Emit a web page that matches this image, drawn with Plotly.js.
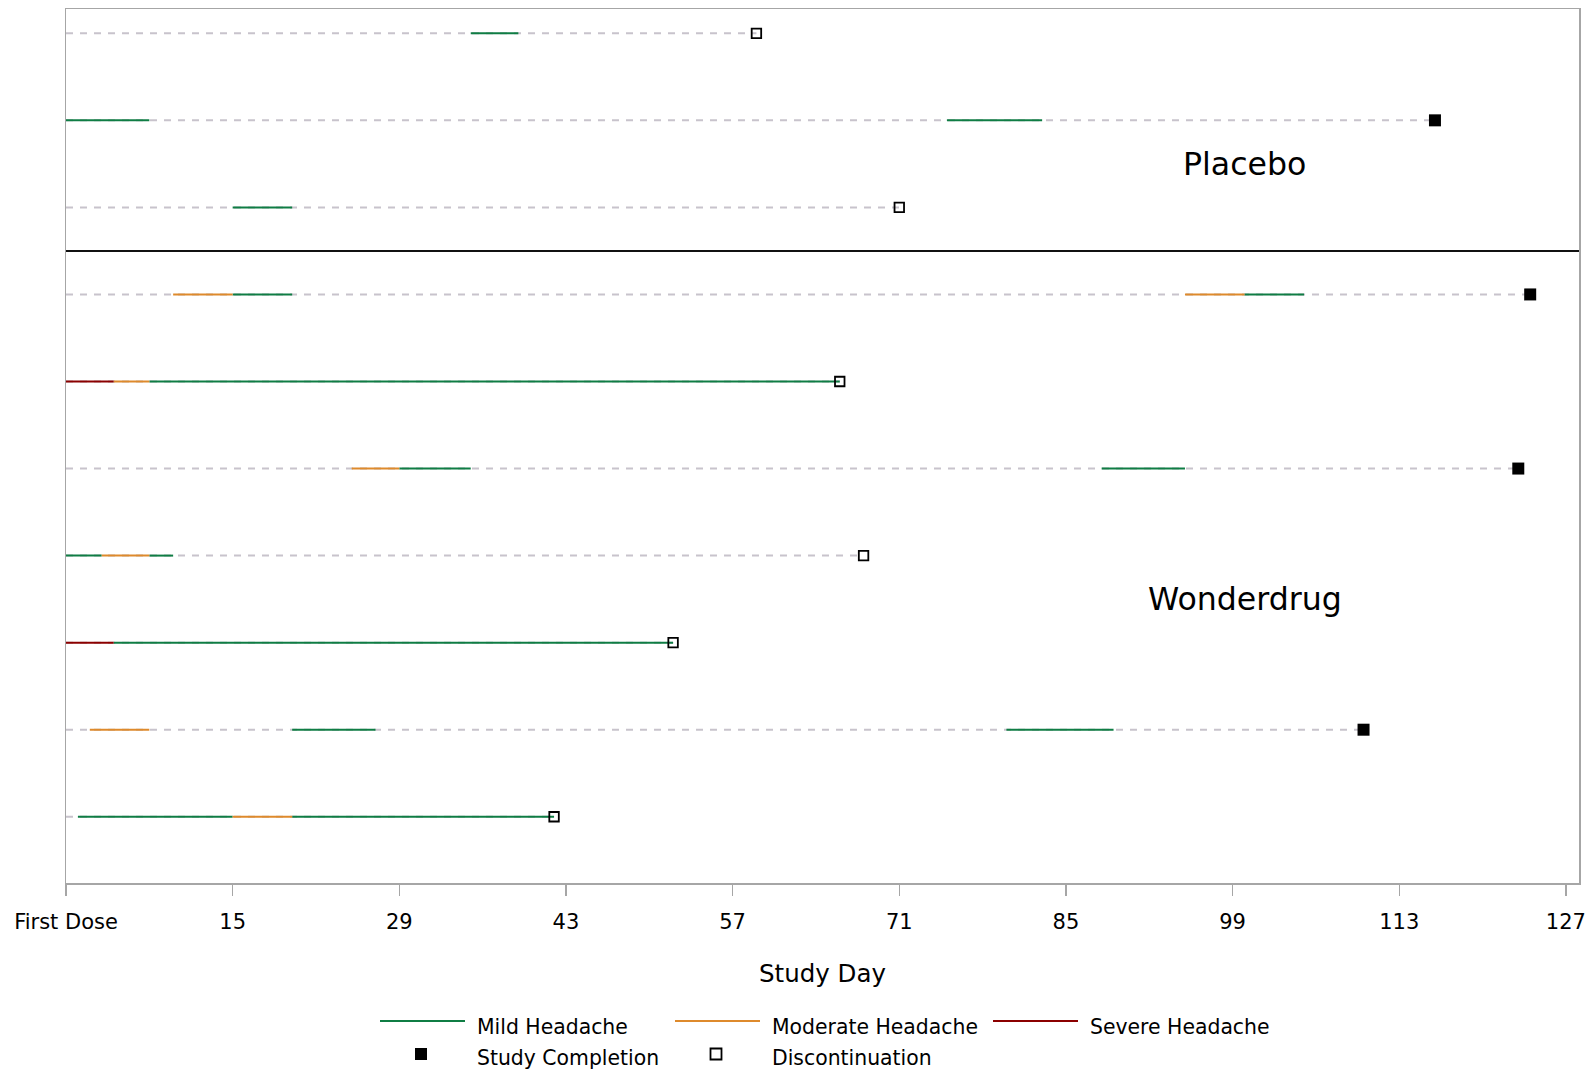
<!DOCTYPE html>
<html><head><meta charset="utf-8">
<script src="https://cdn.plot.ly/plotly-3.0.1.min.js"></script>
<style>html,body{margin:0;padding:0;background:#fff}#chart{width:1596px;height:1070px}</style>
</head><body><div id="chart"></div>
<script>
// ---- Data (rows listed top to bottom) ----
const subjectRow = [10, 9, 8, 7, 6, 5, 4, 3, 2, 1];
const subjectArm = ['Placebo', 'Placebo', 'Placebo', 'Wonderdrug', 'Wonderdrug', 'Wonderdrug', 'Wonderdrug', 'Wonderdrug', 'Wonderdrug', 'Wonderdrug'];
const lastDay = [59, 116, 71, 124, 66, 123, 68, 52, 110, 42];
const endStatus = ['Discontinuation', 'Study Completion', 'Discontinuation', 'Study Completion', 'Discontinuation', 'Study Completion', 'Discontinuation', 'Discontinuation', 'Study Completion', 'Discontinuation'];

const aeRow      = [10, 9, 9, 8, 7, 7, 7, 7, 6, 6, 6, 5, 5, 5, 4, 4, 4, 3, 3, 2, 2, 2, 1, 1, 1];
const aeStart    = [35, 1, 75, 15, 10, 15, 95, 100, 1, 5, 8, 25, 29, 88, 1, 4, 8, 1, 5, 3, 20, 80, 2, 15, 20];
const aeEnd      = [39, 8, 83, 20, 15, 20, 100, 105, 5, 8, 66, 29, 35, 95, 4, 8, 10, 5, 52, 8, 27, 89, 15, 20, 42];
const aeSeverity = ['Mild', 'Mild', 'Mild', 'Mild', 'Moderate', 'Mild', 'Moderate', 'Mild', 'Severe', 'Moderate', 'Mild', 'Moderate', 'Mild', 'Mild', 'Mild', 'Moderate', 'Mild', 'Severe', 'Mild', 'Moderate', 'Mild', 'Mild', 'Mild', 'Moderate', 'Mild'];

const severityLevels = ['Mild', 'Moderate', 'Severe'];
const severityNames = ['Mild Headache', 'Moderate Headache', 'Severe Headache'];
const statusLevels = ['Study Completion', 'Discontinuation'];
const armLevels = ['Placebo', 'Wonderdrug'];
const tickDays = [1, 15, 29, 43, 57, 71, 85, 99, 113, 127];
const tickLabels = ['First Dose', '15', '29', '43', '57', '71', '85', '99', '113', '127'];

// ---- Styles ----
const FONT = 'DejaVu Sans';
const sevColors = {Mild: '#0f7d44', Moderate: '#de8a2c', Severe: '#8b0000'};
const statusStyle = {
  'Study Completion': {symbol: 'square', size: 12, color: '#000', line: {width: 0}},
  'Discontinuation': {symbol: 'square-open', size: 9.5, color: '#000', line: {width: 1.8, color: '#000'}}
};

// ---- Traces ----
const traces = [];
// dashed follow-up lines
{
  const x = [], y = [];
  subjectRow.forEach((r, i) => { x.push(1, lastDay[i], null); y.push(r, r, null); });
  traces.push({type: 'scatter', mode: 'lines', x, y, line: {color: '#c8c3cc', width: 2, dash: '7px,7px'},
    hoverinfo: 'skip', showlegend: false});
}
severityLevels.forEach((sev, k) => {
  const x = [], y = [];
  aeRow.forEach((r, i) => { if (aeSeverity[i] === sev) { x.push(aeStart[i], aeEnd[i], null); y.push(r, r, null); } });
  traces.push({type: 'scatter', mode: 'lines', name: severityNames[k], x, y,
    line: {color: sevColors[sev], width: 2}, showlegend: false});
});
statusLevels.forEach(st => {
  const x = [], y = [];
  subjectRow.forEach((r, i) => { if (endStatus[i] === st) { x.push(lastDay[i]); y.push(r); } });
  traces.push({type: 'scatter', mode: 'markers', name: st, x, y, marker: statusStyle[st], showlegend: false});
});

// ---- Layout geometry ----
const W = 1596, H = 1070, M = {l: 66, r: 17, t: 9, b: 187};
const PW = W - M.l - M.r, PH = H - M.t - M.b;
const px2x = px => (px - M.l) / PW;
const px2y = py => (H - M.b - py) / PH;

const shapes = [];
const annotations = [];

// separator between arms: midway between last row of first arm and first row of second arm
const armRows = armLevels.map(a => subjectRow.filter((r, i) => subjectArm[i] === a));
const sepY = (Math.min(...armRows[0]) + Math.max(...armRows[1])) / 2;
shapes.push({type: 'line', xref: 'paper', yref: 'y', x0: 0, x1: 1, y0: sepY, y1: sepY,
  line: {color: '#111', width: 2}});

// arm labels
armLevels.forEach((a, k) => {
  const rows = armRows[k];
  const mid = rows.reduce((s, v) => s + v, 0) / rows.length - 0.5;
  annotations.push({text: a, x: 100, y: mid, xref: 'x', yref: 'y', showarrow: false,
    xanchor: 'center', yanchor: 'middle', font: {family: FONT, size: 31.6, color: '#000'}});
});

// custom legend
const legLineX = [380, 675, 993];
const legRow1Y = 1021, legRow2Y = 1054;
severityLevels.forEach((sev, k) => {
  shapes.push({type: 'line', xref: 'paper', yref: 'paper', x0: px2x(legLineX[k]), x1: px2x(legLineX[k] + 85),
    y0: px2y(legRow1Y), y1: px2y(legRow1Y), line: {color: sevColors[sev], width: 2}});
  annotations.push({text: severityNames[k], xref: 'paper', yref: 'paper', x: px2x(legLineX[k] + 95), y: px2y(legRow1Y + 6),
    xanchor: 'left', yanchor: 'middle', showarrow: false, font: {family: FONT, size: 20.4, color: '#000'}});
});
statusLevels.forEach((st, k) => {
  const cx = px2x(legLineX[k] + 41), cy = px2y(legRow2Y);
  const open = statusStyle[st].symbol === 'square-open';
  const h = open ? 5.5 : 6;
  shapes.push({type: 'rect', xref: 'paper', yref: 'paper', xsizemode: 'pixel', ysizemode: 'pixel',
    xanchor: cx, yanchor: cy, x0: -h, x1: h, y0: -h, y1: h,
    fillcolor: open ? 'rgba(0,0,0,0)' : '#000', line: {color: '#000', width: open ? 1.8 : 0}});
  annotations.push({text: st, xref: 'paper', yref: 'paper', x: px2x(legLineX[k] + 95), y: px2y(legRow2Y + 4),
    xanchor: 'left', yanchor: 'middle', showarrow: false, font: {family: FONT, size: 20.4, color: '#000'}});
});

const layout = {
  width: W, height: H, margin: M,
  paper_bgcolor: '#fff', plot_bgcolor: '#fff',
  showlegend: false,
  font: {family: FONT, color: '#000'},
  xaxis: {
    range: [1, 128.1], tickmode: 'array', tickvals: tickDays, ticktext: tickLabels,
    ticks: 'outside', ticklen: 11, tickwidth: 1.5, tickcolor: '#a6a6a6',
    ticklabelstandoff: 8,
    showline: true, mirror: true, linecolor: '#a6a6a6', linewidth: 1.5,
    showgrid: false, zeroline: false,
    tickfont: {family: FONT, size: 21, color: '#000'},
    title: {text: 'Study Day', font: {family: FONT, size: 24.5, color: '#000'}, standoff: 32}
  },
  yaxis: {
    range: [0.239, 10.279], showticklabels: false, ticks: '',
    showline: true, mirror: true, linecolor: '#a6a6a6', linewidth: 1.5,
    showgrid: false, zeroline: false
  },
  shapes, annotations
};

Plotly.newPlot('chart', traces, layout, {displayModeBar: false, staticPlot: true});
</script>
</body></html>
